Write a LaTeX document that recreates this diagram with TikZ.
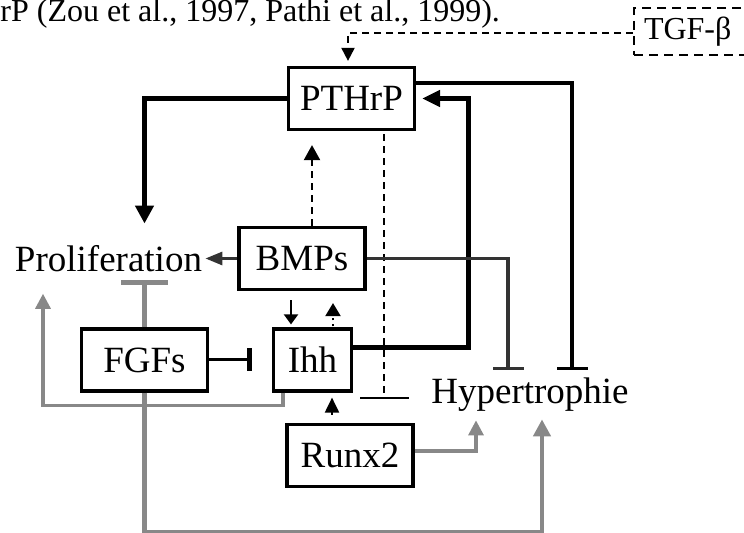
\documentclass[tikz,border=0pt]{standalone}
\usepackage{fontspec}
\setmainfont{Liberation Serif}
\usetikzlibrary{arrows.meta,positioning,calc}
\definecolor{lgray}{HTML}{888888}
\definecolor{dgray}{HTML}{333333}

\begin{document}
\begin{tikzpicture}[x=0.5pt, y=-0.5pt, line join=miter,
  box/.style={draw, line width=1.6pt, minimum width=63pt, minimum height=31pt,
    inner sep=0pt, text height=12.25pt, text depth=0pt, font=\fontsize{18.5}{22}\selectfont},
  lbl/.style={inner sep=0pt, font=\fontsize{18.5}{22}\selectfont},
  small/.style={inner sep=0pt, font=\fontsize{16}{19}\selectfont},
  dashln/.style={line width=1pt, dash pattern=on 3.5pt off 2.5pt}]
\useasboundingbox (0,0) rectangle (744,533);
% caption line at the top
\node[small, anchor=base west] (cite) at (0,22) {rP (Zou et al., 1997, Pathi et al., 1999).};
% boxes
\node[box] (pthrp) at (351.5,98.5) {PTHrP};
\node[box] (bmps) at (302,258.5) {BMPs};
\node[box] (fgfs) at (144.5,360) {FGFs};
\node[box, minimum width=39pt] (ihh) at (312.5,360) {Ihh};
\node[box] (runx) at (350,455.5) {Runx2};
\node[draw, line width=1pt, dash pattern=on 4.5pt off 3pt, anchor=west, minimum height=23.5pt,
  text width=50pt, inner xsep=5pt, inner ysep=0pt, font=\fontsize{16}{19}\selectfont] (tgf) at (633,31.5) {TGF-β};
% outcomes
\node[lbl, anchor=base] (prolif) at (108.5,272) {Proliferation};
\node[lbl, anchor=base] (hyper) at (530,404) {Hypertrophie};

% TGF-beta to PTHrP
\draw[dashln, -{Triangle[length=6.5pt,width=6.5pt]}] ($(tgf.west)+(0,1.5)$) -| ($(pthrp.north)+(-3.5,-5)$);
% PTHrP / Ihh loop
\draw[line width=2.5pt, -{Triangle[length=9pt,width=9pt]}] (pthrp.west) -| ($(fgfs.north |- prolif.north)+(0,-22)$);
\draw[line width=2.5pt, -{Triangle[length=9pt,width=8pt]}, shorten >=3pt]
  ($(ihh.east)+(0,-12)$) -| ($(pthrp.east)+(52.5,0)$) -- (pthrp.east);
\draw[line width=2pt, -{Bar[width=15.5pt, line width=1.6pt]}] ($(pthrp.east)+(0,-15.5)$) -| ($(hyper.north)+(42,-8)$);
\draw[dashln, -{Bar[width=24.5pt, line width=1pt]}] ($(pthrp.south)+(32.5,3)$) -- ++(0,265);
% BMPs
\draw[dgray, line width=1.6pt, -{Bar[width=15.5pt, line width=1.6pt]}] (bmps.east) -| ($(hyper.north)+(-22,-8)$);
\draw[dgray, line width=1.5pt, -{Triangle[length=8.5pt,width=6.5pt]}, shorten >=1.5pt] (bmps.west) -- (bmps.west -| prolif.east);
\draw[dashln, -{Triangle[length=7.5pt,width=8pt]}] ($(bmps.north)+(10,0)$) -- ($(pthrp.south)+(-39.5,14)$);
\draw[line width=1pt, -{Triangle[length=5pt,width=7pt]}] ($(bmps.south)+(-11,9)$) -- ($(ihh.north)+(-21.5,-3)$);
\draw[line width=1pt, dotted, -{Triangle[length=6.5pt,width=7.5pt]}] ($(ihh.north)+(20.5,-1)$) -- ($(bmps.south)+(31,12)$);
% Runx2 and FGFs
\draw[line width=1pt, -{Triangle[length=7.5pt,width=7pt]}] ($(runx.north)+(-18,-8)$) -- ($(ihh.south)+(19.5,5)$);
\draw[line width=1.5pt, -{Bar[width=11.5pt, line width=2.5pt]}] (fgfs.east) -- ($(ihh.west)+(-20,0)$);
\draw[lgray, line width=2.3pt, -{Bar[width=23.5pt, line width=2.5pt]}] (fgfs.north) -- ($(prolif.south)+(36,7)$);
\draw[lgray, line width=1.6pt, -{Triangle[length=7.5pt,width=7.5pt]}]
  ($(ihh.south)+(-29.5,0)$) -- ++(0,13) -| ($(prolif.south)+(-65.5,21)$);
\draw[lgray, line width=2.2pt, -{Triangle[length=8.5pt,width=8.5pt]}]
  (fgfs.south) -- ++(0,139.5) -| ($(hyper.south)+(12,7)$);
\draw[lgray, line width=1.6pt, -{Triangle[length=7.5pt,width=7.5pt]}]
  ($(runx.east)+(0,-4.5)$) -| ($(hyper.south)+(-54,8)$);
\end{tikzpicture}
\end{document}
